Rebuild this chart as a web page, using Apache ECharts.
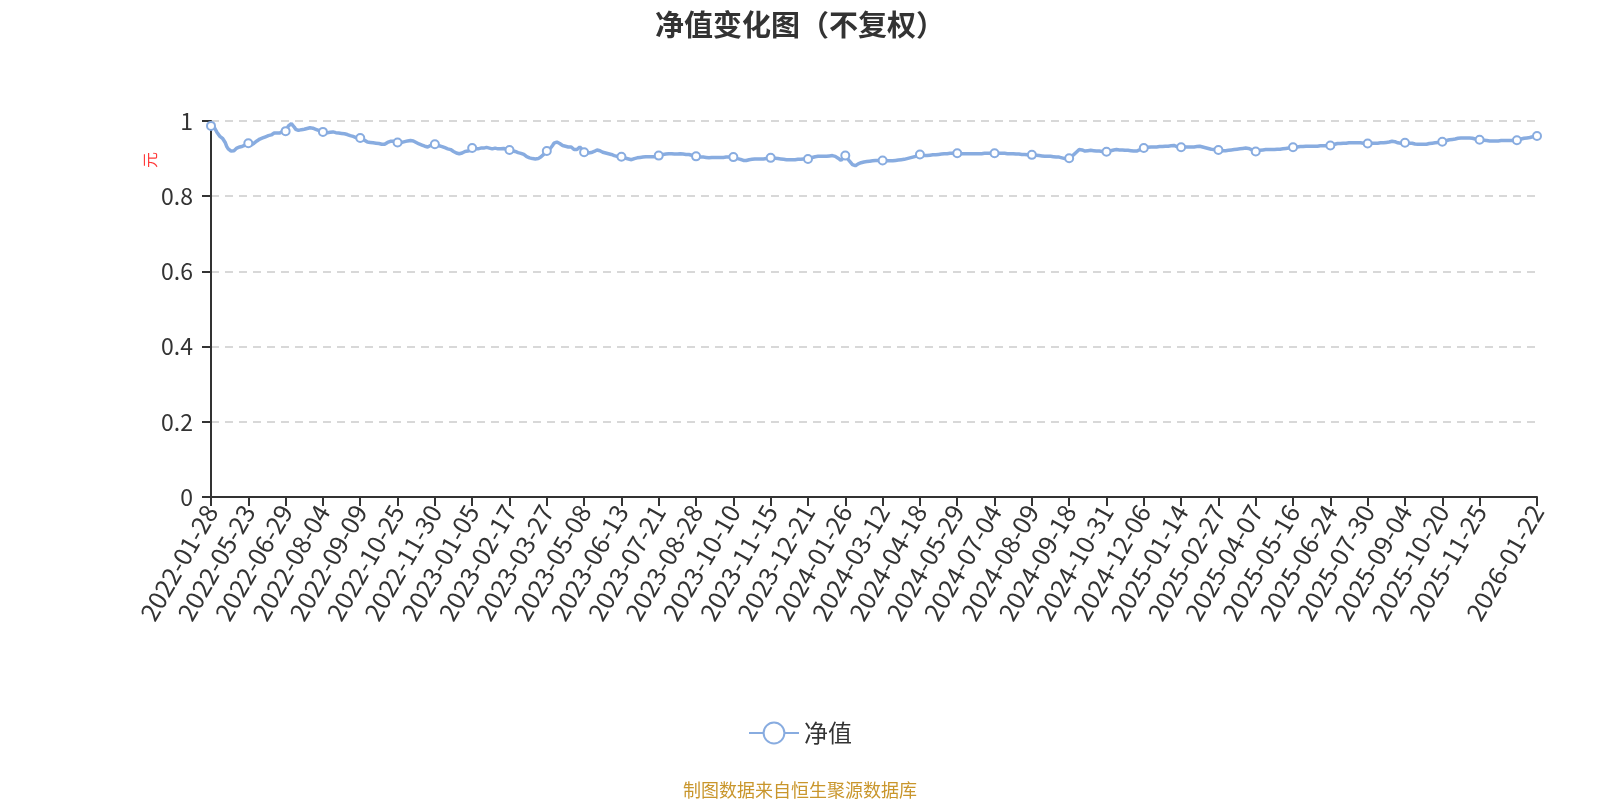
<!DOCTYPE html>
<html>
<head>
<meta charset="utf-8">
<script src="https://cdn.jsdelivr.net/npm/echarts@6/dist/echarts.min.js"></script>
<style>
html,body{margin:0;padding:0;background:#fff;}
#chart{width:1600px;height:800px;}
</style>
</head>
<body>
<div id="chart"></div>
<script>
// Tick-label dates (every 26th NAV date; 2025-12-31 is hidden behind the last label)
const labelDates = ['2022-01-28','2022-05-23','2022-06-29','2022-08-04','2022-09-09','2022-10-25','2022-11-30',
  '2023-01-05','2023-02-17','2023-03-27','2023-05-08','2023-06-13','2023-07-21','2023-08-28','2023-10-10',
  '2023-11-15','2023-12-21','2024-01-26','2024-03-12','2024-04-18','2024-05-29','2024-07-04','2024-08-09',
  '2024-09-18','2024-10-31','2024-12-06','2025-01-14','2025-02-27','2025-04-07','2025-05-16','2025-06-24',
  '2025-07-30','2025-09-04','2025-10-20','2025-11-25','2025-12-31','2026-01-22'];

// Exchange holidays on weekdays (used to list the trading days between tick labels)
const holidays = ['2022-01-31','2022-02-01','2022-02-02','2022-02-03','2022-02-04','2022-04-04','2022-04-05',
  '2022-05-02','2022-05-03','2022-05-04','2022-06-03','2022-09-12','2022-10-03','2022-10-04','2022-10-05',
  '2022-10-06','2022-10-07','2023-01-02','2023-01-23','2023-01-24','2023-01-25','2023-01-26','2023-01-27',
  '2023-04-05','2023-05-01','2023-05-02','2023-05-03','2023-06-22','2023-06-23','2023-09-29','2023-10-02',
  '2023-10-03','2023-10-04','2023-10-05','2023-10-06','2024-01-01','2024-02-09','2024-02-12','2024-02-13',
  '2024-02-14','2024-02-15','2024-02-16','2024-04-04','2024-04-05','2024-05-01','2024-05-02','2024-05-03',
  '2024-06-10','2024-09-16','2024-09-17','2024-10-01','2024-10-02','2024-10-03','2024-10-04','2024-10-07',
  '2025-01-01','2025-01-28','2025-01-29','2025-01-30','2025-01-31','2025-02-03','2025-02-04','2025-04-04',
  '2025-05-01','2025-05-02','2025-05-05','2025-06-02','2025-10-01','2025-10-02','2025-10-03','2025-10-06',
  '2025-10-07','2025-10-08','2026-01-01','2026-01-02'];

// Quarter-end NAV dates that fall on non-trading days
const extraNavDates = ['2022-12-31','2023-09-30','2023-12-31','2024-03-31','2024-06-30'];

// Net value (元), one per NAV date
const navValues = [
0.987,0.991,0.985,0.978,0.971,0.966,0.960,0.957,0.954,0.950,0.942,0.932,0.926,0.922,0.920,0.922,0.921,0.925,0.928,0.929,0.931,0.931,0.933,0.935,0.936,0.939,
0.941,0.939,0.936,0.937,0.941,0.944,0.947,0.950,0.952,0.953,0.955,0.957,0.958,0.959,0.961,0.962,0.963,0.966,0.968,0.969,0.968,0.966,0.968,0.971,0.973,0.972,
0.973,0.980,0.987,0.990,0.993,0.989,0.984,0.978,0.974,0.975,0.976,0.977,0.977,0.978,0.979,0.980,0.981,0.982,0.983,0.981,0.980,0.978,0.976,0.975,0.973,0.972,
0.971,0.970,0.969,0.969,0.970,0.970,0.971,0.971,0.970,0.969,0.968,0.968,0.967,0.967,0.967,0.966,0.965,0.964,0.963,0.961,0.960,0.959,0.958,0.956,0.955,0.954,
0.955,0.953,0.951,0.949,0.946,0.944,0.943,0.943,0.942,0.942,0.941,0.941,0.941,0.940,0.939,0.938,0.937,0.938,0.940,0.943,0.946,0.946,0.947,0.946,0.945,0.944,
0.943,0.942,0.942,0.943,0.943,0.945,0.946,0.947,0.947,0.948,0.947,0.947,0.945,0.943,0.941,0.939,0.938,0.936,0.935,0.933,0.932,0.931,0.933,0.935,0.937,0.938,
0.938,0.937,0.936,0.934,0.933,0.932,0.930,0.929,0.927,0.926,0.925,0.924,0.921,0.919,0.917,0.915,0.914,0.913,0.913,0.915,0.917,0.919,0.919,0.920,0.920,0.922,
0.928,0.927,0.926,0.926,0.926,0.927,0.928,0.928,0.928,0.929,0.930,0.930,0.928,0.927,0.926,0.927,0.928,0.927,0.926,0.926,0.926,0.926,0.927,0.926,0.925,0.924,
0.923,0.922,0.921,0.920,0.919,0.918,0.916,0.915,0.914,0.913,0.911,0.909,0.905,0.903,0.902,0.901,0.900,0.899,0.899,0.898,0.900,0.902,0.905,0.908,0.912,0.916,
0.920,0.922,0.925,0.928,0.935,0.941,0.943,0.944,0.943,0.940,0.937,0.935,0.934,0.933,0.932,0.931,0.931,0.931,0.928,0.924,0.920,0.924,0.928,0.931,0.927,0.922,
0.917,0.916,0.915,0.915,0.915,0.916,0.918,0.919,0.921,0.923,0.924,0.921,0.919,0.917,0.916,0.915,0.914,0.913,0.912,0.911,0.909,0.908,0.907,0.906,0.906,0.905,
0.905,0.903,0.902,0.901,0.900,0.899,0.898,0.897,0.898,0.900,0.902,0.902,0.903,0.903,0.904,0.904,0.904,0.905,0.905,0.905,0.905,0.905,0.905,0.905,0.906,0.907,
0.908,0.909,0.910,0.911,0.912,0.912,0.913,0.913,0.913,0.913,0.912,0.912,0.912,0.912,0.912,0.913,0.912,0.912,0.912,0.911,0.911,0.911,0.910,0.909,0.908,0.907,
0.906,0.905,0.905,0.904,0.904,0.904,0.903,0.903,0.903,0.902,0.903,0.903,0.903,0.903,0.904,0.903,0.903,0.903,0.902,0.903,0.903,0.904,0.904,0.904,0.905,0.904,
0.904,0.903,0.902,0.900,0.899,0.898,0.896,0.895,0.894,0.895,0.896,0.897,0.897,0.898,0.898,0.899,0.899,0.899,0.899,0.899,0.899,0.899,0.900,0.900,0.901,0.901,
0.902,0.902,0.901,0.901,0.901,0.900,0.900,0.899,0.899,0.898,0.898,0.897,0.897,0.897,0.897,0.897,0.897,0.897,0.897,0.898,0.898,0.898,0.899,0.899,0.899,0.899,
0.899,0.901,0.902,0.903,0.904,0.905,0.905,0.906,0.906,0.906,0.906,0.906,0.906,0.906,0.907,0.907,0.908,0.908,0.907,0.906,0.904,0.901,0.898,0.895,0.899,0.904,
0.908,0.903,0.898,0.893,0.889,0.884,0.881,0.881,0.883,0.886,0.888,0.889,0.890,0.891,0.891,0.892,0.892,0.893,0.893,0.894,0.894,0.895,0.895,0.895,0.895,0.895,
0.895,0.895,0.894,0.894,0.894,0.894,0.894,0.894,0.895,0.895,0.895,0.896,0.896,0.897,0.898,0.898,0.899,0.900,0.901,0.902,0.903,0.904,0.905,0.906,0.908,0.910,
0.911,0.910,0.909,0.908,0.908,0.908,0.909,0.909,0.909,0.910,0.910,0.910,0.911,0.911,0.912,0.912,0.913,0.913,0.913,0.913,0.914,0.914,0.914,0.914,0.914,0.914,
0.914,0.914,0.913,0.913,0.913,0.913,0.913,0.913,0.912,0.913,0.913,0.913,0.913,0.913,0.913,0.913,0.913,0.913,0.913,0.914,0.914,0.914,0.914,0.914,0.914,0.914,
0.914,0.914,0.914,0.914,0.914,0.914,0.914,0.914,0.913,0.913,0.913,0.913,0.913,0.913,0.912,0.912,0.912,0.912,0.912,0.911,0.911,0.911,0.911,0.910,0.910,0.910,
0.910,0.910,0.909,0.909,0.908,0.908,0.907,0.907,0.906,0.906,0.906,0.906,0.906,0.906,0.906,0.905,0.905,0.904,0.904,0.904,0.903,0.902,0.901,0.900,0.899,0.899,
0.901,0.904,0.907,0.910,0.913,0.917,0.921,0.924,0.926,0.923,0.921,0.920,0.921,0.921,0.922,0.922,0.922,0.921,0.921,0.920,0.920,0.920,0.920,0.919,0.919,0.918,
0.918,0.919,0.920,0.921,0.922,0.923,0.924,0.924,0.924,0.923,0.923,0.923,0.923,0.922,0.922,0.922,0.921,0.921,0.921,0.920,0.920,0.920,0.921,0.923,0.925,0.927,
0.928,0.929,0.929,0.930,0.930,0.931,0.931,0.931,0.931,0.931,0.931,0.932,0.932,0.932,0.933,0.933,0.933,0.933,0.934,0.934,0.935,0.935,0.934,0.932,0.931,0.930,
0.930,0.930,0.931,0.931,0.931,0.931,0.931,0.931,0.931,0.931,0.932,0.932,0.933,0.933,0.932,0.931,0.930,0.929,0.928,0.927,0.926,0.925,0.925,0.924,0.924,0.923,
0.923,0.922,0.922,0.921,0.921,0.921,0.921,0.922,0.922,0.923,0.923,0.924,0.924,0.925,0.925,0.926,0.926,0.927,0.927,0.928,0.927,0.927,0.926,0.924,0.922,0.920,
0.919,0.920,0.921,0.922,0.923,0.923,0.923,0.924,0.924,0.924,0.924,0.924,0.924,0.924,0.924,0.925,0.925,0.925,0.926,0.926,0.926,0.927,0.928,0.928,0.929,0.929,
0.930,0.930,0.931,0.931,0.932,0.932,0.932,0.932,0.933,0.933,0.933,0.933,0.933,0.933,0.933,0.933,0.933,0.933,0.933,0.934,0.934,0.934,0.934,0.934,0.935,0.935,
0.935,0.936,0.937,0.938,0.939,0.940,0.940,0.940,0.941,0.941,0.941,0.941,0.942,0.942,0.942,0.942,0.942,0.942,0.942,0.942,0.942,0.942,0.941,0.941,0.941,0.940,
0.940,0.940,0.940,0.941,0.941,0.941,0.941,0.941,0.942,0.942,0.942,0.942,0.942,0.943,0.943,0.944,0.945,0.946,0.946,0.945,0.943,0.942,0.941,0.941,0.941,0.942,
0.942,0.942,0.942,0.941,0.941,0.941,0.940,0.939,0.939,0.938,0.938,0.938,0.938,0.938,0.938,0.938,0.939,0.940,0.940,0.941,0.941,0.942,0.943,0.943,0.944,0.944,
0.945,0.946,0.947,0.948,0.949,0.950,0.950,0.951,0.951,0.952,0.953,0.954,0.954,0.955,0.955,0.955,0.955,0.955,0.955,0.955,0.954,0.954,0.953,0.952,0.951,0.951,
0.950,0.950,0.949,0.949,0.949,0.948,0.948,0.947,0.947,0.947,0.947,0.947,0.947,0.947,0.947,0.948,0.948,0.948,0.948,0.948,0.948,0.948,0.948,0.948,0.948,0.948,
0.949,0.950,0.951,0.952,0.953,0.954,0.954,0.955,0.956,0.956,0.957,0.958,0.959,0.959,0.960
];

const titleText = '净值变化图（不复权）';
const seriesName = '净值';
const unitName = '元';
const sourceText = '制图数据来自恒生聚源数据库';

// Build the NAV-date category list between the tick-label dates
function navDatesBetween(a, b, hol, extra) {
  const out = [];
  const d = new Date(a + 'T00:00:00Z');
  const end = new Date(b + 'T00:00:00Z');
  d.setUTCDate(d.getUTCDate() + 1);
  while (d < end) {
    const wd = d.getUTCDay();
    const s = d.toISOString().slice(0, 10);
    if ((wd !== 0 && wd !== 6 && !hol.has(s)) || extra.has(s)) out.push(s);
    d.setUTCDate(d.getUTCDate() + 1);
  }
  return out;
}
function buildDates() {
  const hol = new Set(holidays);
  const extra = new Set(extraNavDates);
  const out = [];
  for (let k = 0; k < labelDates.length - 1; k++) {
    out.push(labelDates[k]);
    let between = navDatesBetween(labelDates[k], labelDates[k + 1], hol, extra);
    if (k < labelDates.length - 2) between = between.slice(-25);
    out.push(...between);
  }
  out.push(labelDates[labelDates.length - 1]);
  return out;
}
const dates = buildDates();

const font = "'Microsoft YaHei','Noto Sans CJK SC','Noto Sans',sans-serif";
const lineColor = '#88ace0';
const chart = echarts.init(document.getElementById('chart'));
chart.setOption({
  backgroundColor: '#ffffff',
  animation: false,
  textStyle: { fontFamily: font },
  title: [{
    text: titleText,
    left: 'center',
    top: 5,
    textStyle: { fontSize: 29, fontWeight: 'bold', color: '#333333', fontFamily: font }
  }, {
    text: sourceText,
    left: 'center',
    top: 776,
    textStyle: { fontSize: 18, fontWeight: 'normal', color: '#c9962c', fontFamily: font }
  }],
  legend: {
    data: [seriesName],
    left: 'center',
    top: 716,
    itemWidth: 50,
    itemHeight: 26,
    textStyle: { fontSize: 24, color: '#333333', fontFamily: font }
  },
  grid: { left: 211, right: 63, top: 121, bottom: 303, containLabel: false },
  xAxis: {
    type: 'category',
    boundaryGap: false,
    data: dates,
    axisLine: { lineStyle: { color: '#333333', width: 2 } },
    axisTick: { length: 9, lineStyle: { color: '#333333', width: 2 } },
    axisLabel: {
      interval: 25,
      rotate: 60,
      showMaxLabel: true,
      fontSize: 25,
      color: '#333333',
      margin: 10,
      fontFamily: font
    },
    splitLine: { show: false }
  },
  yAxis: {
    type: 'value',
    min: 0,
    max: 1,
    interval: 0.2,
    axisLine: { show: true, lineStyle: { color: '#333333', width: 2 } },
    axisTick: { show: true, length: 9, lineStyle: { color: '#333333', width: 2 } },
    axisLabel: { fontSize: 23, color: '#333333', margin: 18, fontFamily: font },
    splitLine: { lineStyle: { type: [8, 6], color: '#cccccc', width: 1.5 } }
  },
  graphic: [{
    type: 'text',
    x: 150,
    y: 160,
    rotation: Math.PI / 2,
    style: { text: unitName, fill: '#ff3b3b', fontSize: 16, align: 'center', verticalAlign: 'middle', fontFamily: font }
  }],
  series: [{
    name: seriesName,
    type: 'line',
    data: navValues,
    symbol: 'emptyCircle',
    symbolSize: 8,
    showSymbol: true,
    color: lineColor,
    lineStyle: { width: 3.5, color: lineColor },
    itemStyle: { color: lineColor, borderWidth: 2 }
  }]
});
</script>
</body>
</html>
